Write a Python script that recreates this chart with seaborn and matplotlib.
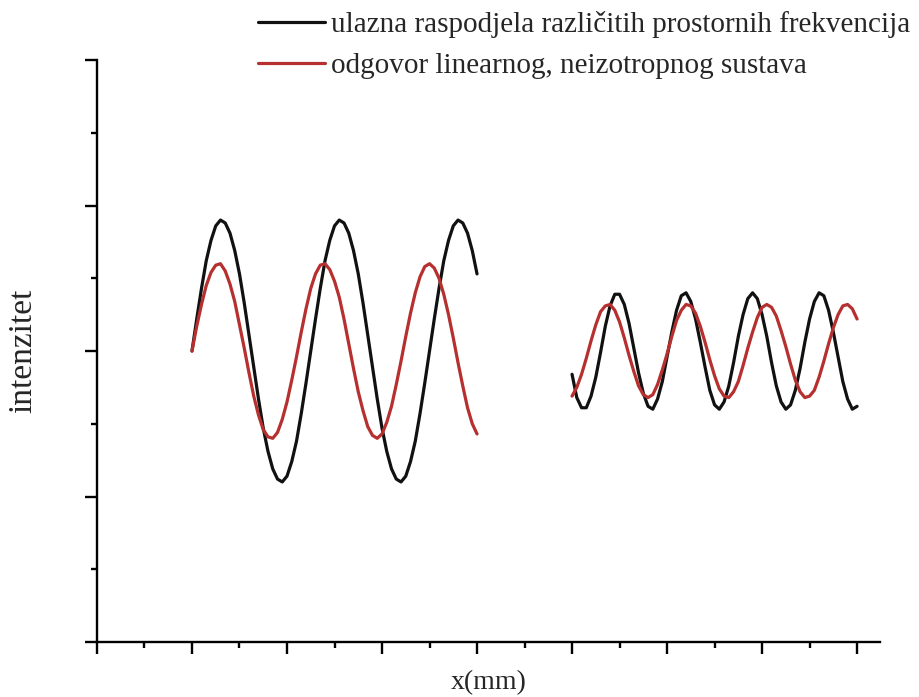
import numpy as np
import pandas as pd
import matplotlib
matplotlib.use("Agg")
import matplotlib.pyplot as plt
from matplotlib.ticker import MultipleLocator, NullFormatter
import seaborn as sns

# sample positions along x (mm), one grid per wave packet
x_left = np.linspace(1.0, 4.0, 61)
x_right = np.linspace(5.0, 8.0, 61)

# intensity, every 0.05 mm
input_left = [
    2.00, 2.22, 2.43, 2.62, 2.76, 2.86, 2.90, 2.88, 2.81, 2.69, 2.53, 2.33, 2.11,
    1.89, 1.67, 1.47, 1.31, 1.19, 1.12, 1.10, 1.14, 1.24, 1.38, 1.57, 1.78,
    2.00, 2.22, 2.43, 2.62, 2.76, 2.86, 2.90, 2.88, 2.81, 2.69, 2.53, 2.33, 2.11,
    1.89, 1.67, 1.47, 1.31, 1.19, 1.12, 1.10, 1.14, 1.24, 1.38, 1.57, 1.78,
    2.00, 2.22, 2.43, 2.62, 2.76, 2.86, 2.90, 2.88, 2.81, 2.69, 2.53,
]
response_left = [
    2.00, 2.17, 2.32, 2.45, 2.54, 2.59, 2.60, 2.55, 2.46, 2.34, 2.18, 2.02, 1.85,
    1.69, 1.56, 1.46, 1.41, 1.40, 1.44, 1.53, 1.65, 1.80, 1.96, 2.13, 2.29,
    2.43, 2.53, 2.59, 2.60, 2.56, 2.48, 2.37, 2.22, 2.05, 1.88, 1.72, 1.59,
    1.48, 1.42, 1.40, 1.43, 1.51, 1.62, 1.77, 1.93, 2.10, 2.26, 2.40, 2.51,
    2.58, 2.60, 2.57, 2.50, 2.39, 2.25, 2.09, 1.92, 1.76, 1.61, 1.50, 1.43,
]
input_right = [
    1.84, 1.68, 1.61, 1.61, 1.69, 1.82, 1.99, 2.17, 2.31, 2.39, 2.39, 2.32, 2.19,
    2.02, 1.85, 1.71, 1.62, 1.60, 1.67, 1.79, 1.96, 2.13, 2.28, 2.38, 2.40,
    2.34, 2.22, 2.06, 1.89, 1.73, 1.63, 1.60, 1.65, 1.76, 1.92, 2.10, 2.25,
    2.36, 2.40, 2.36, 2.25, 2.10, 1.92, 1.76, 1.65, 1.60, 1.63, 1.73, 1.88,
    2.06, 2.22, 2.34, 2.40, 2.38, 2.28, 2.13, 1.96, 1.79, 1.67, 1.60, 1.62,
]
response_right = [
    1.69, 1.75, 1.84, 1.95, 2.07, 2.18, 2.27, 2.31, 2.32, 2.28, 2.20, 2.09, 1.97,
    1.86, 1.76, 1.70, 1.68, 1.70, 1.77, 1.87, 1.98, 2.10, 2.21, 2.28, 2.32,
    2.31, 2.26, 2.17, 2.06, 1.94, 1.83, 1.74, 1.69, 1.68, 1.72, 1.79, 1.90,
    2.02, 2.13, 2.23, 2.30, 2.32, 2.30, 2.24, 2.14, 2.03, 1.91, 1.80, 1.72,
    1.68, 1.69, 1.73, 1.82, 1.93, 2.05, 2.16, 2.25, 2.31, 2.32, 2.29, 2.22,
]

label_input = "ulazna raspodjela različitih prostornih frekvencija"
label_response = "odgovor linearnog, neizotropnog sustava"

parts = []
for seg, xs, ys, lab in [
    ("A", x_left, input_left, label_input),
    ("B", x_right, input_right, label_input),
    ("A", x_left, response_left, label_response),
    ("B", x_right, response_right, label_response),
]:
    parts.append(pd.DataFrame({"x": xs, "intenzitet": ys, "serija": lab, "dio": seg}))
df = pd.concat(parts, ignore_index=True)

sns.set_style("ticks")
plt.rcParams["font.family"] = ["Liberation Serif", "DejaVu Serif"]

fig = plt.figure(figsize=(9.2, 6.97), dpi=100)
ax = fig.add_axes([0.1054, 0.0789, 0.851, 0.835])

palette = {label_input: "#111111", label_response: "#b5302e"}
sns.lineplot(data=df, x="x", y="intenzitet", hue="serija", units="dio",
             estimator=None, palette=palette, linewidth=2.3, sort=False, ax=ax)

ax.set_xlim(0, 8.24)
ax.set_ylim(0, 4.0)
ax.xaxis.set_major_locator(MultipleLocator(1))
ax.xaxis.set_minor_locator(MultipleLocator(0.5))
ax.yaxis.set_major_locator(MultipleLocator(1))
ax.yaxis.set_minor_locator(MultipleLocator(0.5))
ax.xaxis.set_major_formatter(NullFormatter())
ax.yaxis.set_major_formatter(NullFormatter())
ax.tick_params(which="major", length=8.5, width=1.7, color="black", direction="out")
ax.tick_params(which="minor", length=4, width=1.7, color="black", direction="out")
sns.despine(ax=ax)
for s in ("left", "bottom"):
    ax.spines[s].set_linewidth(1.7)
    ax.spines[s].set_color("black")

ax.set_xlabel("x(mm)", fontsize=20, labelpad=8)
ax.set_ylabel("intenzitet", fontsize=24, labelpad=30)

handles, labels = ax.get_legend_handles_labels()
ax.legend(handles, labels, loc="upper left", bbox_to_anchor=(258 / 920, 1 - 11 / 697),
          bbox_transform=fig.transFigure, frameon=False, fontsize=21,
          handlelength=2.3, handletextpad=0.22, labelspacing=0.5,
          borderpad=0, borderaxespad=0)

fig.savefig("out.png", dpi=100)
